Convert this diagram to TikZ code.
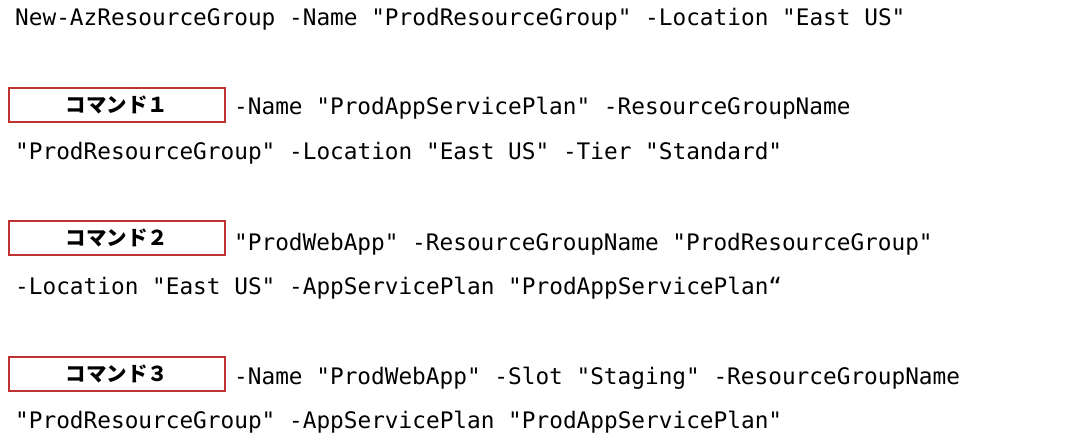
\documentclass[tikz,border=0pt]{standalone}
\usepackage{fontspec}
\setmonofont{DejaVu Sans Mono}
\newfontfamily\jpfont{Noto Sans CJK JP}
\usepackage{tikz}
\usetikzlibrary{positioning}
\definecolor{boxred}{RGB}{190,50,50}
\newcommand{\cmdfont}{\ttfamily\fontsize{22.75}{26}\selectfont}
\newcommand{\lblfont}{\jpfont\bfseries\fontsize{20.5}{24}\selectfont}

\begin{document}
\begin{tikzpicture}[x=1pt,y=-1pt,
    cmdline/.style={anchor=base west,inner sep=0pt,font=\cmdfont},
    cmdbox/.style={draw=boxred,line width=1.2pt,minimum width=216pt,
                   minimum height=34pt,inner sep=0pt,font=\lblfont}]
  \useasboundingbox (0,0) rectangle (1084,441);

  \node (l0) [cmdline] at (15,26)
    {New-AzResourceGroup -Name "ProdResourceGroup" -Location "East US"};

  %% command 1
  \node (cmd1) [cmdbox] at (117,105) {コマンド１};
  \node (l1a) [cmdline] at (234,115)
    {-Name "ProdAppServicePlan" -ResourceGroupName};
  \node (l1b) [cmdline] at (15,160)
    {"ProdResourceGroup" -Location "East US" -Tier "Standard"};

  %% command 2
  \node (cmd2) [cmdbox] at (117,238) {コマンド２};
  \node (l2a) [cmdline] at (234,250)
    {"ProdWebApp" -ResourceGroupName "ProdResourceGroup"};
  \node (l2b) [cmdline] at (15,294)
    {-Location "East US" -AppServicePlan "ProdAppServicePlan“};

  %% command 3
  \node (cmd3) [cmdbox] at (117,374) {コマンド３};
  \node (l3a) [cmdline] at (234,384)
    {-Name "ProdWebApp" -Slot "Staging" -ResourceGroupName};
  \node (l3b) [cmdline] at (15,428)
    {"ProdResourceGroup" -AppServicePlan "ProdAppServicePlan"};
\end{tikzpicture}
\end{document}
